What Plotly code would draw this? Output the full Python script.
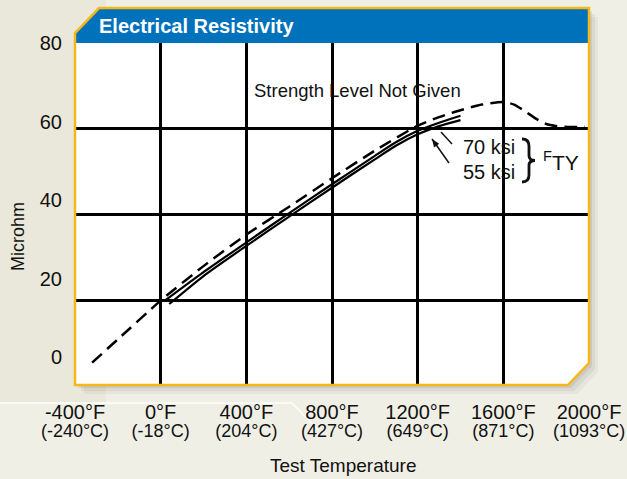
import math

import plotly.graph_objects as go

# axis labels
TEMP_F = [-400, 0, 400, 800, 1200, 1600, 2000]
TEMP_C = [-240, -18, 204, 427, 649, 871, 1093]
RES_TICKS = [0, 20, 40, 60, 80]

# curves (deg F, microhm)
NOT_GIVEN_T = [-320, -200, 0, 200, 400, 600, 800, 1000, 1200, 1300, 1400,
               1500, 1600, 1650, 1700, 1750, 1800, 1850, 1900, 1980]
NOT_GIVEN_R = [5.6, 11.0, 20.0, 28.0, 35.3, 41.8, 48.4, 54.8, 60.6, 62.6, 64.2,
               65.5, 66.1, 65.5, 64.0, 62.3, 61.0, 60.5, 60.3, 60.3]
KSI70_T = [20, 200, 400, 600, 800, 1000, 1100, 1200, 1300, 1400]
KSI70_R = [20.0, 26.6, 33.5, 40.3, 47.0, 53.6, 56.8, 59.4, 61.3, 62.9]
KSI55_T = [40, 200, 400, 600, 800, 1000, 1100, 1200, 1300, 1400]
KSI55_R = [19.2, 25.7, 32.7, 39.5, 46.2, 52.8, 56.0, 58.6, 60.5, 61.9]

W, H = 627, 479
L, R, T, B = 75, 38, 43, 94
PW, PH = W - L - R, H - T - B
FONT = "Liberation Sans, Arial, Helvetica, sans-serif"
GOLD = "#F6B719"
BLUE = "#0072BC"
INK = "#111"


def px(x):
    return (x - L) / PW


def py(y):
    return (H - B - y) / PH


def path(points, close=True):
    s = "M " + " L ".join(f"{px(x):.4f},{py(y):.4f}" for x, y in points)
    return s + " Z" if close else s


def pointer(tail, head, with_head=True):
    """Leader line (+ optional filled arrowhead) in pixel space."""
    out = [dict(type="path", xref="paper", yref="paper", layer="above",
                path=path([tail, head], close=False), line=dict(color=INK, width=1.5))]
    if with_head:
        dx, dy = head[0] - tail[0], head[1] - tail[1]
        n = math.hypot(dx, dy)
        ux, uy = dx / n, dy / n
        bx, by = head[0] - 8 * ux, head[1] - 8 * uy
        tri = [head, (bx - 3.2 * uy, by + 3.2 * ux), (bx + 3.2 * uy, by - 3.2 * ux)]
        out.append(dict(type="path", xref="paper", yref="paper", layer="above",
                        path=path(tri), fillcolor=INK, line=dict(width=0)))
    return out


panel = [(75, 33), (99, 8), (589, 8), (589, 363), (568, 385), (75, 385)]
title_bar = [(76, 33), (99, 9), (588, 9), (588, 43), (76, 43)]

fig = go.Figure()
fig.add_trace(go.Scatter(
    x=NOT_GIVEN_T, y=NOT_GIVEN_R, mode="lines",
    line=dict(color="black", width=2.5, dash="13px,7px", shape="spline", smoothing=0.6),
    name="Strength Level Not Given", hoverinfo="skip",
))
for name, xs, ys in (("70 ksi", KSI70_T, KSI70_R), ("55 ksi", KSI55_T, KSI55_R)):
    fig.add_trace(go.Scatter(
        x=xs, y=ys, mode="lines",
        line=dict(color="black", width=2.2, shape="spline", smoothing=0.6),
        name=name, hoverinfo="skip",
    ))
# empty trace so the label axis gets drawn
fig.add_trace(go.Scatter(x=[], y=[], yaxis="y2", showlegend=False, hoverinfo="skip"))

shapes = [
    # faint background decoration
    dict(type="rect", xref="paper", yref="paper", layer="below",
         x0=px(0), x1=px(106), y0=py(402), y1=py(0),
         fillcolor="#E9E8DA", line=dict(width=0)),
    dict(type="path", xref="paper", yref="paper", layer="below",
         path=f"M {px(0)},{py(403)} L {px(292)},{py(403)} L {px(318)},{py(430)}",
         line=dict(color="rgba(255,255,255,0.9)", width=1.5)),
]
# drop shadow
for i, op in ((9, 0.05), (6, 0.07), (3, 0.09)):
    shapes.append(dict(type="path", xref="paper", yref="paper", layer="below",
                       path=path([(x + i, y + i) for x, y in panel]),
                       fillcolor=f"rgba(60,60,50,{op})", line=dict(width=0)))
shapes.append(dict(type="path", xref="paper", yref="paper", layer="below",
                   path=path(panel), fillcolor="white", line=dict(width=0)))
shapes.append(dict(type="path", xref="paper", yref="paper", layer="above",
                   path=path(title_bar), fillcolor=BLUE, line=dict(width=0)))
shapes.append(dict(type="path", xref="paper", yref="paper", layer="above",
                   path=path(panel), fillcolor="rgba(0,0,0,0)",
                   line=dict(color=GOLD, width=2.5)))
# curly brace grouping the two strength levels
bx, by0, by1 = 522, 139, 182
bm = (by0 + by1) / 2
brace = (f"M {px(bx)},{py(by0)} Q {px(bx + 7)},{py(by0)} {px(bx + 7)},{py(by0 + 7)} "
         f"L {px(bx + 7)},{py(bm - 5)} Q {px(bx + 7)},{py(bm)} {px(bx + 13)},{py(bm)} "
         f"Q {px(bx + 7)},{py(bm)} {px(bx + 7)},{py(bm + 5)} "
         f"L {px(bx + 7)},{py(by1 - 7)} Q {px(bx + 7)},{py(by1)} {px(bx)},{py(by1)}")
shapes.append(dict(type="path", xref="paper", yref="paper", layer="above",
                   path=brace, line=dict(color=INK, width=2.8)))
# leaders from the ksi labels to their curves
shapes += pointer((452, 144), (441, 132), with_head=False)
shapes += pointer((449, 163), (432, 139))

annotations = [
    dict(text="<b>Electrical Resistivity</b>", xref="paper", yref="paper",
         x=px(97), y=py(26), xanchor="left", yanchor="middle", showarrow=False,
         font=dict(family=FONT, size=20, color="white")),
    dict(text="Strength Level Not Given", xref="x", yref="y", x=921, y=68.8,
         showarrow=False, font=dict(family=FONT, size=18.5, color=INK)),
    dict(text="70 ksi", xref="paper", yref="paper", x=px(461), y=py(147),
         xanchor="left", yanchor="middle", showarrow=False,
         font=dict(family=FONT, size=20, color=INK)),
    dict(text="55 ksi", xref="paper", yref="paper", x=px(461), y=py(172),
         xanchor="left", yanchor="middle", showarrow=False,
         font=dict(family=FONT, size=20, color=INK)),
    dict(text="<sup>F</sup>TY", xref="paper", yref="paper", x=px(541), y=py(161),
         xanchor="left", yanchor="middle", showarrow=False,
         font=dict(family=FONT, size=21, color=INK)),
    dict(text="Microhm", xref="paper", yref="paper", x=px(18), y=py(237),
         textangle=-90, showarrow=False, xanchor="center", yanchor="middle",
         font=dict(family=FONT, size=18, color=INK)),
    dict(text="Test Temperature", xref="paper", yref="paper", x=px(343), y=py(465),
         showarrow=False, xanchor="center", yanchor="middle",
         font=dict(family=FONT, size=19, color=INK)),
]

fig.update_layout(
    width=W, height=H,
    margin=dict(l=L, r=R, t=T, b=B, pad=0, autoexpand=False),
    paper_bgcolor="#F0EFE6",
    plot_bgcolor="rgba(0,0,0,0)",
    showlegend=False,
    shapes=shapes,
    annotations=annotations,
    xaxis=dict(
        range=[-400, 2000], tickvals=TEMP_F,
        ticktext=[f"<span style='font-size:20px'>{f}°F</span><br>"
                  f"<span style='font-size:18px'>({c}°C)</span>"
                  for f, c in zip(TEMP_F, TEMP_C)],
        tickfont=dict(family=FONT, size=14, color=INK),
        showgrid=True, gridcolor="black", gridwidth=2.5, automargin=False,
        zeroline=False, showline=False, ticks="", ticklabelstandoff=19,
        ticklabeloverflow="allow",
    ),
    yaxis=dict(
        range=[0.4, 79.8], tickvals=[20, 40, 60], automargin=False,
        showticklabels=False, showgrid=True, gridcolor="black", gridwidth=2.5,
        zeroline=False, showline=False, ticks="",
    ),
    yaxis2=dict(
        overlaying="y", side="left", range=[-7.13, 80.0], tickvals=RES_TICKS,
        tickfont=dict(family=FONT, size=20, color=INK), automargin=False,
        showgrid=False, zeroline=False, showline=False, ticks="",
        ticklabelstandoff=12,
    ),
)

fig.write_html("out.html", config={"displayModeBar": False},
               post_script="document.body.style.margin='0';")
